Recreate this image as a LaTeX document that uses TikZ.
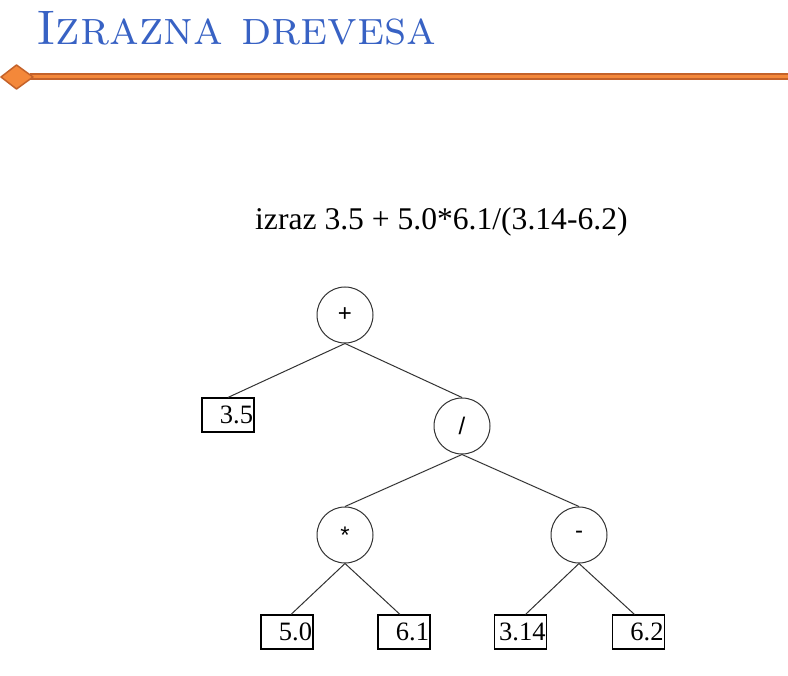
\documentclass[tikz,border=0pt]{standalone}
\usepackage{fontspec}
\newfontfamily\serifnum{Liberation Serif}
\newfontfamily\sansop{Liberation Sans}
\definecolor{titleblue}{RGB}{56,98,196}
\definecolor{barorange}{RGB}{244,136,58}
\definecolor{bardark}{RGB}{196,98,42}
\definecolor{treeline}{RGB}{50,50,50}
\tikzset{
  op/.style={circle, draw=treeline, line width=1pt, minimum size=56pt, inner sep=0pt,
             font=\sansop\fontsize{24}{28}\selectfont},
  leaf/.style={draw=black, line width=1.1pt, minimum height=34pt, text width=50pt, align=right,
               inner xsep=1pt, inner ysep=0pt, font=\serifnum\fontsize{26.5}{30}\selectfont},
  branch/.style={draw=treeline, line width=1pt}
}
\begin{document}
\begin{tikzpicture}[x=1pt, y=-1pt]
\useasboundingbox (0,0) rectangle (788,676);
% heading and rule
\node[anchor=base west, inner sep=0pt, text=titleblue, font=\fontsize{48.5}{58}\selectfont\scshape] (title) at (36,45) {Izrazna drevesa};
\draw[bardark, line width=7.5pt] (30,76.5) -- (788,76.5);
\draw[barorange, line width=3pt] (30,76.5) -- (788,76.5);
\draw[bardark, fill=barorange, line width=1.5pt, line join=round] (1,77) -- (16.5,65) -- (33,77) -- (16.5,89) -- cycle;
% expression
\node[anchor=base west, inner sep=0pt, font=\serifnum\fontsize{31.6}{36}\selectfont] (expr) at (255,230) {izraz 3.5 + 5.0*6.1/(3.14-6.2)};
% tree
\node[op] (plus) at (345,315) {+};
\node[op] (div) at (462,426) {/};
\node[op] (mul) at (345,535) {*};
\node[op] (sub) at (579,535) {-};
\node[leaf] (a) at (228,415) {3.5};
\node[leaf] (b) at (287,632) {5.0};
\node[leaf] (c) at (404,632) {6.1};
\node[leaf] (d) at (520.5,632) {3.14};
\node[leaf] (e) at (638.5,632) {6.2};
\draw[branch] (plus.south) -- (a.north);
\draw[branch] (plus.south) -- (div.north);
\draw[branch] (div.south) -- (mul.north);
\draw[branch] (div.south) -- (sub.north);
\draw[branch] (mul.south) -- ([xshift=4pt]b.north);
\draw[branch] (mul.south) -- ([xshift=-4pt]c.north);
\draw[branch] (sub.south) -- ([xshift=5pt]d.north);
\draw[branch] (sub.south) -- ([xshift=-4pt]e.north);
\end{tikzpicture}
\end{document}
